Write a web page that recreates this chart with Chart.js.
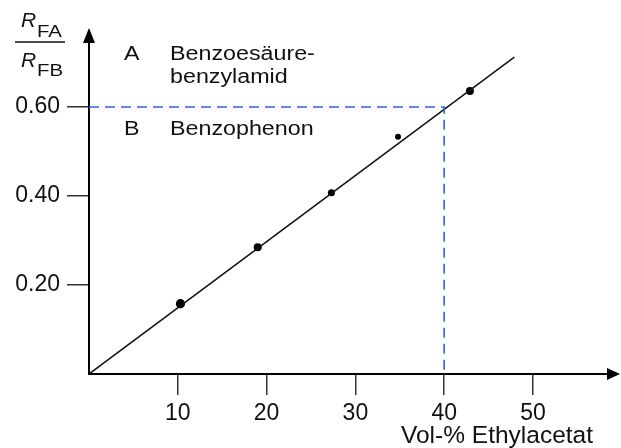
<!DOCTYPE html>
<html>
<head>
<meta charset="utf-8">
<script src="https://cdn.jsdelivr.net/npm/chart.js@4"></script>
<style>
  html, body { margin: 0; padding: 0; background: #fff; }
  #wrap { width: 621px; height: 448px; }
</style>
</head>
<body>
<div id="wrap"><canvas id="c" width="621" height="448"></canvas></div>
<script>
// ---- data ----
const measuredX = [10.3, 19.0, 27.3, 34.8, 42.9];
const measuredY = [0.158, 0.285, 0.407, 0.533, 0.636];
const fitX = [0, 47.9];
const fitY = [0, 0.712];
const readX = [0, 40, 40];
const readY = [0.60, 0.60, 0];
const xTicks = [10, 20, 30, 40, 50];
const yTicks = [0.20, 0.40, 0.60];

const FONT = '"Liberation Sans", Arial, sans-serif';
const pts = (xs, ys) => xs.map((x, i) => ({ x, y: ys[i] }));

// ---- axes arrows + labels ----
const decor = {
  id: 'decor',
  afterDraw(chart) {
    const { ctx, chartArea: a } = chart;
    ctx.save();
    ctx.fillStyle = '#000';
    // x arrow
    ctx.beginPath();
    ctx.moveTo(a.right + 12, a.bottom);
    ctx.lineTo(a.right - 1, a.bottom - 6);
    ctx.lineTo(a.right - 1, a.bottom + 6);
    ctx.closePath();
    ctx.fill();
    // y arrow
    ctx.beginPath();
    ctx.moveTo(a.left, a.top - 14);
    ctx.lineTo(a.left - 6, a.top + 1);
    ctx.lineTo(a.left + 6, a.top + 1);
    ctx.closePath();
    ctx.fill();

    ctx.fillStyle = '#111';
    // x title
    ctx.font = '24.5px ' + FONT;
    ctx.textBaseline = 'alphabetic';
    ctx.textAlign = 'left';
    ctx.fillText('Vol-% Ethylacetat', 401, 443);

    // y title R_FA / R_FB
    ctx.font = 'italic 21px ' + FONT;
    ctx.fillText('R', 21, 27);
    ctx.fillText('R', 21, 67);
    ctx.save();
    ctx.scale(1.2, 1);
    ctx.font = '17px ' + FONT;
    ctx.fillText('FA', 37 / 1.2, 37);
    ctx.fillText('FB', 37 / 1.2, 76);
    ctx.restore();
    ctx.strokeStyle = '#111';
    ctx.lineWidth = 1.6;
    ctx.beginPath();
    ctx.moveTo(15, 42);
    ctx.lineTo(65, 42);
    ctx.stroke();

    // legend-like annotations
    ctx.save();
    ctx.scale(1.2, 1);
    ctx.font = '19.4px ' + FONT;
    ctx.fillText('A', 124 / 1.2, 60);
    ctx.fillText('Benzoesäure-', 170 / 1.2, 60);
    ctx.fillText('benzylamid', 170 / 1.2, 83);
    ctx.fillText('B', 124 / 1.2, 135);
    ctx.fillText('Benzophenon', 170 / 1.2, 135);
    ctx.restore();
    ctx.restore();
  }
};

new Chart(document.getElementById('c'), {
  type: 'scatter',
  data: {
    datasets: [
      {
        type: 'line',
        data: pts(readX, readY),
        borderColor: '#2f5ff5',
        borderWidth: 1.6,
        borderDash: [10, 6],
        pointRadius: 0,
        fill: false,
        tension: 0
      },
      {
        type: 'line',
        data: pts(fitX, fitY),
        borderColor: '#111',
        borderWidth: 1.5,
        pointRadius: 0,
        fill: false,
        tension: 0
      },
      {
        data: pts(measuredX, measuredY),
        backgroundColor: '#000',
        borderColor: '#000',
        pointRadius: [4.6, 4, 3.5, 3, 4],
        pointBorderWidth: 0
      }
    ]
  },
  options: {
    responsive: false,
    animation: false,
    events: [],
    layout: { padding: { left: 0, right: 13, top: 42, bottom: 0 } },
    plugins: { legend: { display: false }, tooltip: { enabled: false } },
    scales: {
      x: {
        type: 'linear',
        min: 0,
        max: 58.45,
        afterFit: s => { s.height = 74; },
        afterBuildTicks: s => { s.ticks = xTicks.map(v => ({ value: v })); },
        border: { display: true, color: '#000', width: 2 },
        grid: { drawOnChartArea: false, drawTicks: true, tickLength: 21, color: '#333', lineWidth: 1.5 },
        ticks: { color: '#111', padding: 5, font: { family: FONT, size: 23 }, maxRotation: 0 }
      },
      y: {
        type: 'linear',
        min: 0,
        max: 0.746,
        afterFit: s => { s.width = 89; },
        afterBuildTicks: s => { s.ticks = yTicks.map(v => ({ value: v })); },
        border: { display: true, color: '#000', width: 2 },
        grid: { drawOnChartArea: false, drawTicks: true, tickLength: 22, color: '#333', lineWidth: 1.5 },
        ticks: { color: '#111', padding: 7, font: { family: FONT, size: 23 }, callback: v => v.toFixed(2) }
      }
    }
  },
  plugins: [decor]
});
</script>
</body>
</html>
